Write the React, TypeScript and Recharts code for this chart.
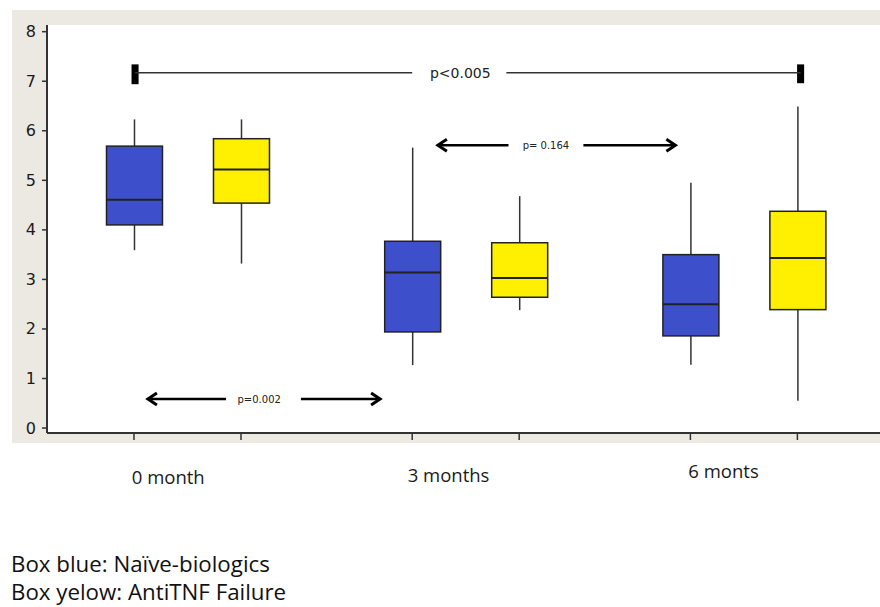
import React from "react";
import {
  ComposedChart,
  Bar,
  XAxis,
  YAxis,
  CartesianGrid,
  ReferenceLine,
  ReferenceArea,
  ReferenceDot,
} from "recharts";

// ---- data ----
const groupLabels = ["0 month", "3 months", "6 monts"];
const groupLabelPos = [1.32, 3.94, 6.51];
const groupLabelDy = [34.5, 32.5, 28.5];
const seriesNames = ["Naïve-biologics", "AntiTNF Failure"];
const seriesColors = ["#3d4fcb", "#ffef00"];
const boxX = [1, 2, 3.6, 4.6, 6.2, 7.2];
const boxSeries = [0, 1, 0, 1, 0, 1];
const mins = [3.59, 3.32, 1.27, 2.38, 1.28, 0.55];
const q1s = [4.1, 4.54, 1.94, 2.64, 1.86, 2.39];
const medians = [4.61, 5.22, 3.14, 3.03, 2.5, 3.43];
const q3s = [5.69, 5.84, 3.77, 3.74, 3.5, 4.375];
const maxs = [6.23, 6.23, 5.66, 4.68, 4.95, 6.49];
const yTicks = [0, 1, 2, 3, 4, 5, 6, 7, 8];

// comparison annotations (data units)
const pAll = { label: "p<0.005", y: 7.17, x1: 1.01, x2: 7.23, gapL: 3.6, gapR: 4.48, tx: 4.05 };
const p164 = { label: "p= 0.164", y: 5.71, x1: 3.84, x2: 6.06, gapL: 4.5, gapR: 5.2, tx: 4.85 };
const p002 = { label: "p=0.002", y: 0.585, x1: 1.13, x2: 3.3, gapL: 1.86, gapR: 2.56, tx: 2.17 };

const data = boxX.map((x, i) => ({
  x,
  min: mins[i],
  q1: q1s[i],
  median: medians[i],
  q3: q3s[i],
  max: maxs[i],
  color: seriesColors[boxSeries[i]],
  name: seriesNames[boxSeries[i]],
}));

const X_DOMAIN: [number, number] = [0.187, 7.972];
const Y_DOMAIN: [number, number] = [-0.1, 8.135];

const BoxShape = (props: any) => {
  const { x, y, width, height, payload } = props;
  if (!payload) return null;
  const top = Math.min(y, y + height);
  const h = Math.abs(height);
  const bottom = top + h;
  const k = h / (payload.q3 - payload.q1);
  const py = (v: number) => bottom - (v - payload.q1) * k;
  const cx = x + width / 2;
  return (
    <g>
      <line x1={cx} x2={cx} y1={py(payload.max)} y2={top} stroke="#333" strokeWidth={1.5} />
      <line x1={cx} x2={cx} y1={bottom} y2={py(payload.min)} stroke="#333" strokeWidth={1.5} />
      <rect x={x} y={top} width={width} height={h} fill={payload.color} stroke="#222" strokeWidth={1.5} />
      <line x1={x} x2={x + width} y1={py(payload.median)} y2={py(payload.median)} stroke="#222" strokeWidth={2} />
    </g>
  );
};

const ArrowSeg = (props: any) => {
  const { x1, y1, x2, y2 } = props;
  if (x1 == null) return null;
  const dir = x2 > x1 ? 1 : -1;
  return (
    <g>
      <line x1={x1} y1={y1} x2={x2 - dir * 2} y2={y2} stroke="#000" strokeWidth={2.5} />
      <path
        d={`M ${x2 - dir * 9} ${y2 - 6} L ${x2} ${y2} L ${x2 - dir * 9} ${y2 + 6}`}
        fill="none"
        stroke="#000"
        strokeWidth={3}
      />
    </g>
  );
};

const PlainSeg = (props: any) => {
  const { x1, y1, x2, y2 } = props;
  if (x1 == null) return null;
  return <line x1={x1} y1={y1} x2={x2} y2={y2} stroke="#333" strokeWidth={1.5} />;
};

const GroupTick = (props: any) => {
  const { x, y, payload } = props;
  const i = groupLabelPos.indexOf(payload.value);
  const label = i >= 0 ? groupLabels[i] : "";
  const dy = i >= 0 ? groupLabelDy[i] : 0;
  return (
    <text
      x={x}
      y={y + dy}
      textAnchor="middle"
      dominantBaseline="middle"
      fontFamily="Open Sans"
      fontSize={18.5}
      fill="#1a1a1a"
    >
      {label}
    </text>
  );
};

const font = "DejaVu Sans";

const YTick = (props: any) => {
  const { x, y, payload } = props;
  return (
    <text x={x} y={y} textAnchor="end" dominantBaseline="central" fontFamily={font} fontSize={16} fill="#1a1a1a">
      {payload.value}
    </text>
  );
};

export default function App() {
  return (
    <div style={{ position: "absolute", left: 0, top: 0, width: 880, height: 607, overflow: "hidden", background: "#fff" }}>
      <div style={{ position: "absolute", left: 12, top: 10, width: 868, height: 433, background: "#ece9e2" }} />
      <div style={{ position: "absolute", left: 0, top: 0 }}>
        <ComposedChart
          width={880}
          height={607}
          data={data}
          margin={{ top: 25, right: 0, left: 12, bottom: 114 }}
        >
          <CartesianGrid horizontal={false} vertical={false} fill="#ffffff" />
          <XAxis
            xAxisId={0}
            dataKey="x"
            type="number"
            domain={X_DOMAIN}
            allowDataOverflow
            ticks={boxX}
            interval={0}
            tickFormatter={() => ""}
            height={10}
            tickSize={7}
            axisLine={{ stroke: "#333", strokeWidth: 2 }}
            tickLine={{ stroke: "#333", strokeWidth: 1.5 }}
          />
          <XAxis
            xAxisId="labels"
            dataKey="x"
            type="number"
            domain={X_DOMAIN}
            allowDataOverflow
            ticks={groupLabelPos}
            tick={<GroupTick />}
            axisLine={false}
            tickLine={false}
            tickSize={0}
            height={50}
            interval={0}
          />
          <XAxis
            xAxisId="top"
            dataKey="x"
            orientation="top"
            type="number"
            domain={X_DOMAIN}
            allowDataOverflow
            tick={false}
            tickLine={false}
            height={0}
            axisLine={{ stroke: "#333", strokeWidth: 2 }}
          />
          <YAxis
            type="number"
            domain={Y_DOMAIN}
            allowDataOverflow
            ticks={yTicks}
            width={35}
            tickSize={5}
            tickMargin={6}
            interval={0}
            axisLine={{ stroke: "#333", strokeWidth: 2 }}
            tickLine={{ stroke: "#333", strokeWidth: 1.5 }}
            tick={<YTick />}
          />
          <Bar
            dataKey={(d: any) => [d.q1, d.q3]}
            barSize={56}
            shape={<BoxShape />}
            isAnimationActive={false}
          />

          {/* overall comparison bracket */}
          <ReferenceLine segment={[{ x: pAll.x1, y: pAll.y }, { x: pAll.gapL, y: pAll.y }]} shape={<PlainSeg />} />
          <ReferenceLine segment={[{ x: pAll.gapR, y: pAll.y }, { x: pAll.x2, y: pAll.y }]} shape={<PlainSeg />} />
          <ReferenceArea x1={pAll.x1 - 0.033} x2={pAll.x1 + 0.033} y1={6.94} y2={7.34} fill="#000" fillOpacity={1} stroke="none" />
          <ReferenceArea x1={pAll.x2 - 0.033} x2={pAll.x2 + 0.033} y1={6.96} y2={7.34} fill="#000" fillOpacity={1} stroke="none" />
          <ReferenceDot
            x={pAll.tx}
            y={pAll.y}
            r={0}
            fill="none"
            stroke="none"
            label={{ value: pAll.label, position: "center", fontFamily: font, fontSize: 14, fill: "#222" }}
          />

          {/* p = 0.164 */}
          <ReferenceLine segment={[{ x: p164.gapL, y: p164.y }, { x: p164.x1, y: p164.y }]} shape={<ArrowSeg />} />
          <ReferenceLine segment={[{ x: p164.gapR, y: p164.y }, { x: p164.x2, y: p164.y }]} shape={<ArrowSeg />} />
          <ReferenceDot
            x={p164.tx}
            y={p164.y}
            r={0}
            fill="none"
            stroke="none"
            label={{ value: p164.label, position: "center", fontFamily: font, fontSize: 10, fill: "#222" }}
          />

          {/* p = 0.002 */}
          <ReferenceLine segment={[{ x: p002.gapL, y: p002.y }, { x: p002.x1, y: p002.y }]} shape={<ArrowSeg />} />
          <ReferenceLine segment={[{ x: p002.gapR, y: p002.y }, { x: p002.x2, y: p002.y }]} shape={<ArrowSeg />} />
          <ReferenceDot
            x={p002.tx}
            y={p002.y}
            r={0}
            fill="none"
            stroke="none"
            label={{ value: p002.label, position: "center", fontFamily: font, fontSize: 10, fill: "#222" }}
          />
        </ComposedChart>
      </div>
      <div
        style={{
          position: "absolute",
          left: 11,
          top: 550,
          fontFamily: "Open Sans",
          fontSize: 22.3,
          lineHeight: "28px",
          color: "#111",
          whiteSpace: "nowrap",
        }}
      >
        <div>Box blue: {seriesNames[0]}</div>
        <div>Box yelow: {seriesNames[1]}</div>
      </div>
    </div>
  );
}
